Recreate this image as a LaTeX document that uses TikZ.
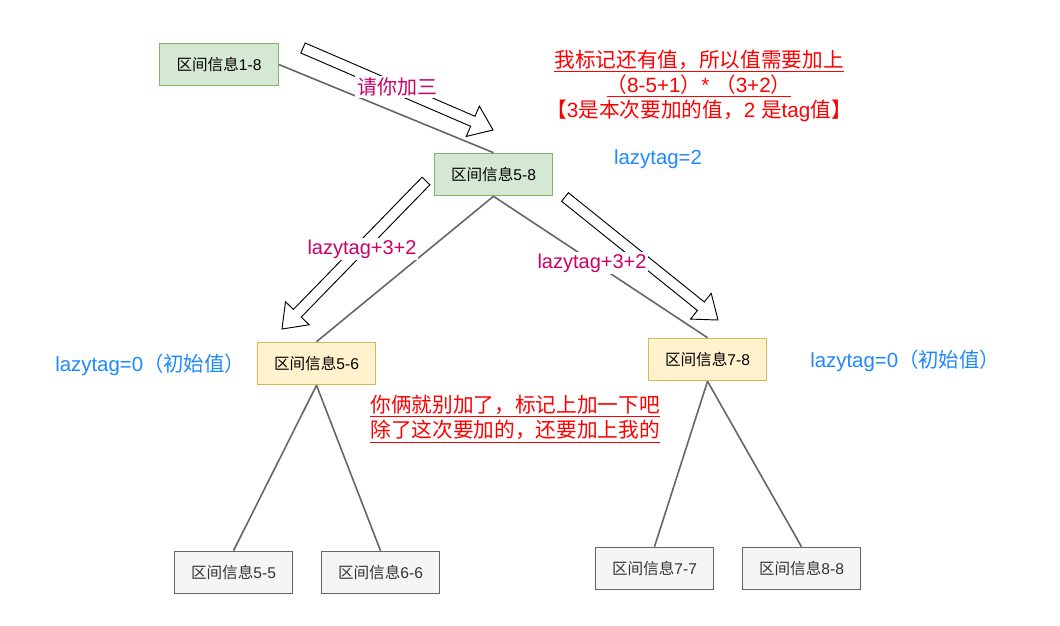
\documentclass[tikz,border=0pt]{standalone}
\usepackage{fontspec}
\setmainfont{Liberation Sans}
\newfontfamily\cjk{Noto Sans CJK SC}
\usetikzlibrary{calc}

\definecolor{greenfill}{HTML}{D5E8D4}
\definecolor{greenline}{HTML}{82B366}
\definecolor{yellowfill}{HTML}{FFF2CC}
\definecolor{yellowline}{HTML}{D6B656}
\definecolor{grayfill}{HTML}{F5F5F5}
\definecolor{grayline}{HTML}{666666}
\definecolor{graytext}{HTML}{333333}
\definecolor{pushcolor}{HTML}{CC0066}
\definecolor{notered}{HTML}{FF0000}
\definecolor{tagblue}{HTML}{1E88FF}

% flecha hueca de #1 a #2
\newcommand{\hollowarrow}[2]{%
  \coordinate (hb) at ($(#2)!16.5pt!(#1)$);
  \draw[fill=white, line width=0.7pt, line join=miter]
    ($(#1)!4.1pt!90:(#2)$) -- ($(hb)!4.1pt!90:(#2)$) -- ($(hb)!12.4pt!90:(#2)$) -- (#2)
    -- ($(hb)!12.4pt!-90:(#2)$) -- ($(hb)!4.1pt!-90:(#2)$) -- ($(#1)!4.1pt!-90:(#2)$) -- cycle;
}

\begin{document}
\begin{tikzpicture}[x=0.75pt, y=-0.75pt,
  seg/.style={draw, line width=0.7pt, minimum width=89pt, minimum height=32pt, inner sep=0pt, font=\fontsize{11.7}{13}\selectfont},
  root/.style={seg, fill=greenfill, draw=greenline},
  mid/.style={seg, fill=yellowfill, draw=yellowline},
  leaf/.style={seg, fill=grayfill, draw=grayline, text=graytext},
  edge/.style={draw=grayline, line width=1.2pt},
  push/.style={fill=white, inner sep=1.5pt, text=pushcolor, font=\fontsize{15}{17}\selectfont},
  note/.style={text=notered, align=center, inner sep=0pt, font=\fontsize{15.5}{19}\selectfont},
  tag/.style={text=tagblue, inner sep=0pt, font=\fontsize{15.3}{17}\selectfont}]

     \useasboundingbox (0,0) rectangle (1060,625);

     % Nodos del árbol de segmentos
     \node[root] (s18) at (219,64.5) {{\cjk 区间信息}1-8};
     \node[root] (s58) at (493.5,174.5) {{\cjk 区间信息}5-8};
     \node[mid] (s56) at (316.5,363.5) {{\cjk 区间信息}5-6};
     \node[mid] (s78) at (707.5,359.5) {{\cjk 区间信息}7-8};
     \node[leaf] (s55) at (233.5,572.5) {{\cjk 区间信息}5-5};
     \node[leaf] (s66) at (380.5,572.5) {{\cjk 区间信息}6-6};
     \node[leaf] (s77) at (654.5,568.5) {{\cjk 区间信息}7-7};
     \node[leaf] (s88) at (801.5,568.5) {{\cjk 区间信息}8-8};

     % Aristas
     \draw[edge] (s18.east) -- (s58.north);
     \draw[edge] (s58.south) -- (s56.north);
     \draw[edge] (s58.south) -- (s78.north);
     \draw[edge] (s56.south) -- (s55.north);
     \draw[edge] (s56.south) -- (s66.north);
     \draw[edge] (s78.south) -- (s77.north);
     \draw[edge] (s78.south) -- (s88.north);

     % Flechas huecas (bajada del tag)
     \coordinate (t1) at (303,48);
     \coordinate (p1) at (493,130);
     \coordinate (t2) at (426,181);
     \coordinate (p2) at (282,329);
     \coordinate (t3) at (565,197);
     \coordinate (p3) at (718,320);
     \hollowarrow{t1}{p1}
     \hollowarrow{t2}{p2}
     \hollowarrow{t3}{p3}

     % Etiquetas de las flechas
     \node[push] (add3) at (397,87) {\cjk 请你加三};
     \node[push] (downl) at (362,249) {lazytag+3+2};
     \node[push] (downr) at (592,263) {lazytag+3+2};

     % Notas en rojo
     \node[note] (note1) at (699,86) {\underline{\cjk 我标记还有值，所以值需要加上}\\
       \underline{{\cjk （}8-5+1{\cjk ）}* {\cjk （}3+2{\cjk ）}}\\
       {\cjk 【}3{\cjk 是本次要加的值，}2 {\cjk 是}tag{\cjk 值】}};
     \node[note] (note2) at (515,419) {\underline{\cjk 你俩就别加了，标记上加一下吧}\\
       \underline{\cjk 除了这次要加的，还要加上我的}};

     % Valores de lazytag
     \node[tag] (tag58) at (658,159) {lazytag=2};
     \node[tag, anchor=west] (tag56) at (55,365) {lazytag=0{\cjk （初始值）}};
     \node[tag, anchor=west] (tag78) at (810,361) {lazytag=0{\cjk （初始值）}};

   \end{tikzpicture}
\end{document}
